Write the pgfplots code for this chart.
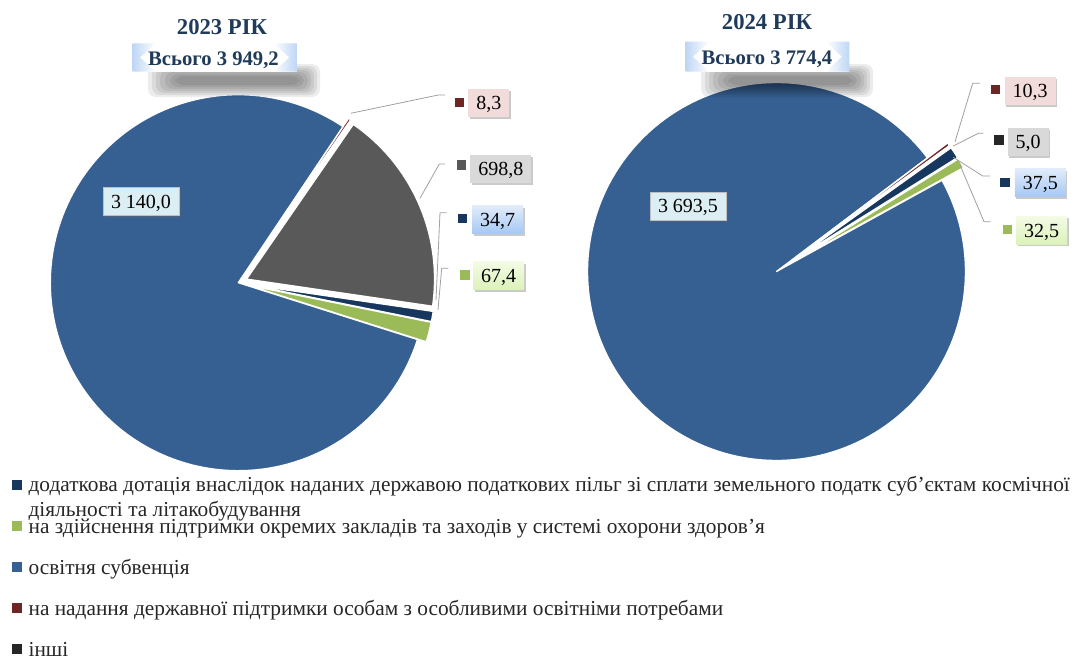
\documentclass[border=0pt]{standalone}
\usepackage{pgfplots}
\pgfplotsset{compat=1.18}
\usepackage{fontspec}
\setmainfont{Liberation Serif}
\usetikzlibrary{shadows}

\definecolor{cBlue}{RGB}{55,96,146}
\definecolor{cNavy}{RGB}{23,55,94}
\definecolor{cGreen}{RGB}{155,187,89}
\definecolor{cRed}{RGB}{110,38,36}
\definecolor{cGrey}{RGB}{89,89,89}
\definecolor{cBlack}{RGB}{38,38,38}
\definecolor{cTitle}{RGB}{31,59,89}
\definecolor{cLead}{RGB}{160,160,160}
\definecolor{bPink}{RGB}{242,220,219}
\definecolor{bGrey}{RGB}{217,217,217}
\definecolor{bCyan}{RGB}{219,238,244}
\definecolor{bBlueT}{RGB}{226,236,250}
\definecolor{bBlueB}{RGB}{166,200,244}
\definecolor{bGreenT}{RGB}{244,251,230}
\definecolor{bGreenB}{RGB}{220,242,186}
\definecolor{bRib}{RGB}{190,214,245}

% running angle (degrees, counter-clockwise from east), slices go clockwise
\def\curang{0}
\newcommand{\slicecw}[8]{% cx cy R value total color explode extra
  \pgfmathsetmacro{\pspan}{#4/#5*360}%
  \pgfmathsetmacro{\pend}{\curang-\pspan}%
  \pgfmathsetmacro{\pmid}{\curang-\pspan/2}%
  \pgfmathsetmacro{\pox}{#1+#7*cos(\pmid)}%
  \pgfmathsetmacro{\poy}{#2-#7*sin(\pmid)}%
  \pgfmathtruncatemacro{\pns}{\pspan/2+3}%
  \edef\pcmd{\noexpand\addplot[fill=#6, draw=white, line width=1pt, line join=round, domain=\pend:\curang, samples=\pns, #8] ({\pox+#3*cos(x)},{\poy-#3*sin(x)}) -- (axis cs:\pox,\poy) -- cycle;}%
  \pcmd
  \xdef\curang{\pend}%
}

\newcommand{\legfont}{\fontsize{16}{18.5}\selectfont\color{black!85}}

\tikzset{
  lab/.style={font=\fontsize{15}{15}\selectfont, inner xsep=6pt, inner ysep=0pt,
    minimum height=21pt, text height=10.5pt, text depth=0pt,
    drop shadow={shadow xshift=1.2pt, shadow yshift=-1.6pt, opacity=0.35, fill=black!60}},
  key/.style={minimum size=6.8pt, inner sep=0pt},
  lead/.style={draw=cLead, line width=0.6pt},
  shd/.style={fill=black, opacity=0.075, rounded corners=6pt},
}

\begin{document}
\begin{tikzpicture}
\useasboundingbox (0,0) rectangle (812.25pt,492.75pt);
\begin{axis}[at={(0pt,0pt)}, anchor=south west, scale only axis,
  width=812.25pt, height=492.75pt,
  xmin=0, xmax=1083, ymin=0, ymax=657, y dir=reverse,
  hide axis, clip=false,
  legend image code/.code={\fill[#1,draw=none] (0pt,-3.75pt) rectangle (7.5pt,3.75pt);},
  legend style={draw=none, fill=none, at={(axis cs:11.7,477)}, anchor=north west,
    font=\legfont, row sep=19.9pt, column sep=5pt, inner sep=0pt,
    nodes={inner sep=0pt, text height=11pt, text depth=0pt}},
  legend cell align=left,
]

% ---------- 2023 pie: total 3949.2 ----------
\xdef\curang{56.16}
\slicecw{238.3}{282.7}{188}{8.3}{3949.2}{cRed}{10}{forget plot}
\slicecw{238.3}{282.7}{188}{698.8}{3949.2}{cGrey}{9}{forget plot}
\slicecw{238.3}{282.7}{188}{34.7}{3949.2}{cNavy}{9}{forget plot}
\slicecw{238.3}{282.7}{188}{67.4}{3949.2}{cGreen}{9}{forget plot}
\slicecw{238.3}{282.7}{188}{3140.0}{3949.2}{cBlue}{0}{forget plot}

% ---------- 2024 pie: components sum 3778.8 ----------
\xdef\curang{35.543}
\slicecw{776.5}{271.5}{189}{37.5}{3778.8}{cNavy}{25}{}
\addlegendentry{\parbox[t]{900pt}{додаткова дотація внаслідок наданих державою податкових пільг зі сплати земельного податк суб'єктам космічної\\діяльності та літакобудування}}
\slicecw{776.5}{271.5}{189}{32.5}{3778.8}{cGreen}{25}{}
\addlegendentry{на здійснення підтримки окремих закладів та заходів у системі охорони здоров'я}
\slicecw{776.5}{271.5}{189}{3693.5}{3778.8}{cBlue}{0}{}
\addlegendentry{освітня субвенція}
\slicecw{776.5}{271.5}{189}{10.3}{3778.8}{cRed}{25}{}
\addlegendentry{на надання державної підтримки особам з особливими освітніми потребами}
\slicecw{776.5}{271.5}{189}{5.0}{3778.8}{cBlack}{25}{}
\addlegendentry{інші}

% ---------- titles ----------
\node[font=\fontsize{17}{17}\selectfont\bfseries, text=cTitle] at (axis cs:222,26.7) {2023 РІК};
\node[font=\fontsize{17}{17}\selectfont\bfseries, text=cTitle] at (axis cs:767,21.7) {2024 РІК};

% ribbon 2023 with soft shadow
\fill[shd] (axis cs:175,76) rectangle (axis cs:300,85);
\fill[shd] (axis cs:170,74) rectangle (axis cs:304,87);
\fill[shd] (axis cs:165,72) rectangle (axis cs:308,89);
\fill[shd] (axis cs:160,70) rectangle (axis cs:311,91);
\fill[shd] (axis cs:156,68) rectangle (axis cs:314,93);
\fill[shd] (axis cs:152,66) rectangle (axis cs:317,95);
\fill[shd] (axis cs:148,64) rectangle (axis cs:320,97);
\fill[white] (axis cs:132.6,43.3) rectangle (axis cs:296.8,71.7);
\shade[left color=bRib, right color=white] (axis cs:132.6,43.3) -- (axis cs:156,43.3) -- (axis cs:140,57.5) -- (axis cs:156,71.7) -- (axis cs:132.6,71.7) -- cycle;
\shade[left color=white, right color=bRib] (axis cs:273.4,43.3) -- (axis cs:296.8,43.3) -- (axis cs:296.8,71.7) -- (axis cs:273.4,71.7) -- (axis cs:289.4,57.5) -- cycle;
% ribbon 2024 with soft shadow
\fill[shd] (axis cs:728,76) rectangle (axis cs:853,85);
\fill[shd] (axis cs:723,74) rectangle (axis cs:857,87);
\fill[shd] (axis cs:718,72) rectangle (axis cs:861,89);
\fill[shd] (axis cs:713,70) rectangle (axis cs:864,91);
\fill[shd] (axis cs:709,68) rectangle (axis cs:867,93);
\fill[shd] (axis cs:705,66) rectangle (axis cs:870,95);
\fill[shd] (axis cs:701,64) rectangle (axis cs:873,97);
\fill[white] (axis cs:685.5,41.7) rectangle (axis cs:849.3,71.7);
\shade[left color=bRib, right color=white] (axis cs:685.5,41.7) -- (axis cs:709,41.7) -- (axis cs:693,56.7) -- (axis cs:709,71.7) -- (axis cs:685.5,71.7) -- cycle;
\shade[left color=white, right color=bRib] (axis cs:825.9,41.7) -- (axis cs:849.3,41.7) -- (axis cs:849.3,71.7) -- (axis cs:825.9,71.7) -- (axis cs:841.9,56.7) -- cycle;
\node[font=\fontsize{15.5}{15.5}\selectfont\bfseries, text=cTitle] at (axis cs:213.5,60.5) {Всього 3 949,2};
\node[font=\fontsize{15.5}{15.5}\selectfont\bfseries, text=cTitle] at (axis cs:767,59) {Всього 3 774,4};

% ---------- leader lines ----------
\draw[lead] (axis cs:350.7,113.3) -- (axis cs:438.3,95) -- (axis cs:445,95);
\draw[lead] (axis cs:420,198.3) -- (axis cs:439.3,164) -- (axis cs:445,164);
\draw[lead] (axis cs:436,300) -- (axis cs:440,212.7) -- (axis cs:446.7,212.7);
\draw[lead] (axis cs:438,310) -- (axis cs:441.7,268.3) -- (axis cs:448.3,268.3);
\draw[lead] (axis cs:955,141.7) -- (axis cs:972.7,83.3) -- (axis cs:980,83.3);
\draw[lead] (axis cs:953.3,146) -- (axis cs:978.3,133.3) -- (axis cs:983.3,133.3);
\draw[lead] (axis cs:953.3,157.3) -- (axis cs:982.7,176) -- (axis cs:990,176);
\draw[lead] (axis cs:960,165) -- (axis cs:984,221.7) -- (axis cs:990.7,221.7);

% ---------- data labels ----------
\node[lab, fill=bPink] at (axis cs:488.8,102.5) {8,3};
\node[key, fill=cRed] at (axis cs:459.3,102.7) {};
\node[lab, fill=bGrey] at (axis cs:500.8,168.8) {698,8};
\node[key, fill=cGrey] at (axis cs:461.7,165) {};
\node[lab, top color=bBlueT, bottom color=bBlueB] at (axis cs:497.5,219.5) {34,7};
\node[key, fill=cNavy] at (axis cs:462.7,218.3) {};
\node[lab, top color=bGreenT, bottom color=bGreenB] at (axis cs:498.7,275.5) {67,4};
\node[key, fill=cGreen] at (axis cs:465,275) {};
\node[lab, fill=bCyan, draw=black!25, line width=0.4pt] at (axis cs:141,201.7) {3 140,0};

\node[lab, fill=bPink] at (axis cs:1030,90.5) {10,3};
\node[key, fill=cRed] at (axis cs:995.7,89.3) {};
\node[lab, fill=bGrey] at (axis cs:1028,141.7) {5,0};
\node[key, fill=cBlack] at (axis cs:999,140) {};
\node[lab, top color=bBlueT, bottom color=bBlueB] at (axis cs:1040.3,182.7) {37,5};
\node[key, fill=cNavy] at (axis cs:1005,182.7) {};
\node[lab, top color=bGreenT, bottom color=bGreenB] at (axis cs:1041.7,230) {32,5};
\node[key, fill=cGreen] at (axis cs:1007.3,229.3) {};
\node[lab, fill=bCyan, draw=black!25, line width=0.4pt] at (axis cs:688,205.8) {3 693,5};

\end{axis}
\end{tikzpicture}
\end{document}
